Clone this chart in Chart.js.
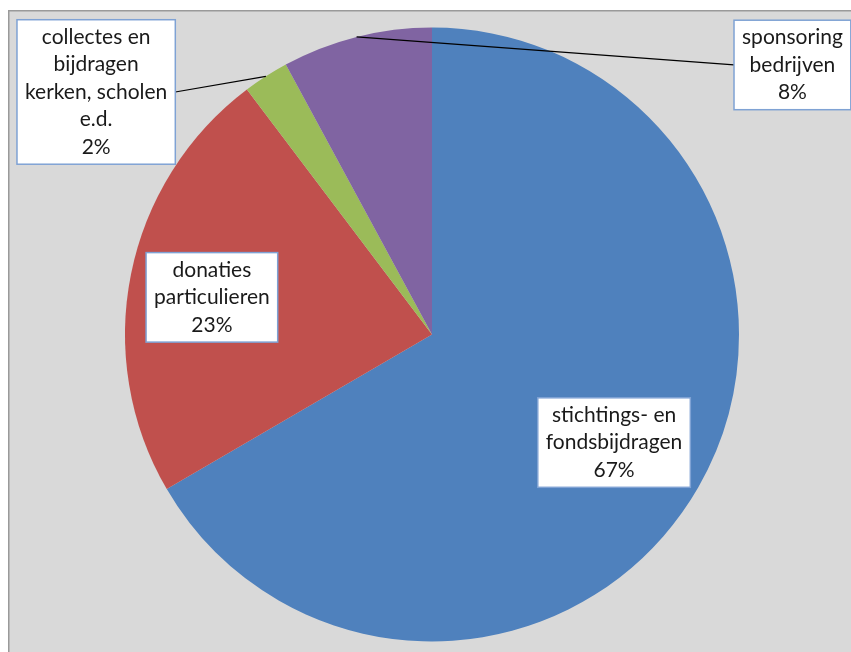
<!DOCTYPE html>
<html>
<head>
<meta charset="utf-8">
<script src="https://cdn.jsdelivr.net/npm/chart.js@4.4.1/dist/chart.umd.min.js"></script>
<style>
  html, body { margin: 0; padding: 0; background: #ffffff; }
  #wrap { width: 851px; height: 652px; }
</style>
</head>
<body>
<div id="wrap"><canvas id="pie" width="851" height="652"></canvas></div>
<script>
// ---- Data ---------------------------------------------------------------
const CATEGORIES = [
    ['stichtings- en', 'fondsbijdragen'],
    ['donaties', 'particulieren'],
    ['collectes en', 'bijdragen', 'kerken, scholen', 'e.d.'],
    ['sponsoring', 'bedrijven'],
];
const VALUES = [66.6, 23.1, 2.4, 7.9];
const COLORS = ['#4f81bd', '#c0504d', '#9bbb59', '#8064a2'];

// label box centres, relative to pie centre in units of radius
const LABEL_POS = [[0.593, 0.352], [-0.717, -0.121], [-1.094, -0.79], [1.174, -0.878]];
const LEADER = [false, false, true, true];

const FONT = '21px "Lato", "Liberation Sans", sans-serif';
const LINE_H = 27.5;

// ---- Plugins ------------------------------------------------------------
const frame = {
    id: 'frame',
    beforeDraw(chart) {
        const ctx = chart.ctx;
        ctx.save();
        ctx.fillStyle = '#d9d9d9';
        ctx.fillRect(8, 10, chart.width - 8, chart.height - 10);
        ctx.strokeStyle = '#9a9a9a';
        ctx.lineWidth = 1.5;
        ctx.beginPath();
        ctx.moveTo(8.75, chart.height);
        ctx.lineTo(8.75, 10.75);
        ctx.lineTo(chart.width, 10.75);
        ctx.stroke();
        ctx.restore();
    }
};

const labelBoxes = {
    id: 'labelBoxes',
    afterDatasetsDraw(chart) {
        const ctx = chart.ctx;
        const meta = chart.getDatasetMeta(0);
        const total = VALUES.reduce((a, b) => a + b, 0);
        ctx.save();
        ctx.font = FONT;
        meta.data.forEach((arc, i) => {
            const { x, y, startAngle, endAngle, outerRadius } =
                arc.getProps(['x', 'y', 'startAngle', 'endAngle', 'outerRadius'], true);
            const lines = [...CATEGORIES[i], Math.round(VALUES[i] / total * 100) + '%'];
            const maxW = Math.max(...lines.map(l => ctx.measureText(l).width));
            const w = maxW + 16;
            const h = lines.length * LINE_H + 7;
            const cx = x + LABEL_POS[i][0] * outerRadius;
            const cy = y + LABEL_POS[i][1] * outerRadius;
            const bx = cx - w / 2, by = cy - h / 2;

            if (LEADER[i]) {
                const mid = (startAngle + endAngle) / 2;
                const px = x + Math.cos(mid) * outerRadius;
                const py = y + Math.sin(mid) * outerRadius;
                const sx = LABEL_POS[i][0] < 0 ? bx + w : bx;
                ctx.strokeStyle = '#000000';
                ctx.lineWidth = 1.2;
                ctx.beginPath();
                ctx.moveTo(sx, cy);
                ctx.lineTo(px, py);
                ctx.stroke();
            }

            ctx.fillStyle = '#ffffff';
            ctx.fillRect(bx, by, w, h);
            ctx.strokeStyle = '#7fa2d4';
            ctx.lineWidth = 1.5;
            ctx.strokeRect(bx, by, w, h);

            ctx.fillStyle = '#1a1a1a';
            ctx.textAlign = 'center';
            ctx.textBaseline = 'middle';
            lines.forEach((l, k) => {
                ctx.fillText(l, cx, by + 3.5 + LINE_H * (k + 0.5));
            });
        });
        ctx.restore();
    }
};

// ---- Chart --------------------------------------------------------------
new Chart(document.getElementById('pie'), {
    type: 'pie',
    data: {
        labels: CATEGORIES.map(c => c.join(' ')),
        datasets: [{
            data: VALUES,
            backgroundColor: COLORS,
            borderWidth: 0,
        }]
    },
    options: {
        responsive: false,
        animation: false,
        layout: { padding: { left: 125, right: 112, top: 27.5, bottom: 10.5 } },
        plugins: {
            legend: { display: false },
            tooltip: { enabled: false },
        }
    },
    plugins: [frame, labelBoxes]
});
</script>
</body>
</html>
